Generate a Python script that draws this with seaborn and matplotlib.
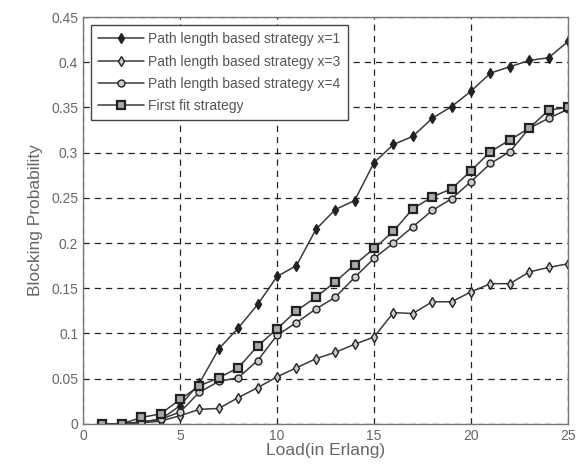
import pandas as pd
import seaborn as sns
import matplotlib
matplotlib.use('Agg')
import matplotlib.pyplot as plt

load = list(range(1, 26))
x1 = [0, 0, 0.002, 0.005, 0.02, 0.045, 0.083, 0.106, 0.132, 0.163, 0.175, 0.215, 0.237,
      0.247, 0.289, 0.309, 0.318, 0.338, 0.351, 0.368, 0.388, 0.395, 0.402, 0.405, 0.423]
x3 = [0, 0, 0.001, 0.003, 0.009, 0.016, 0.017, 0.029, 0.04, 0.052, 0.062, 0.072, 0.079,
      0.088, 0.096, 0.123, 0.122, 0.135, 0.135, 0.146, 0.155, 0.155, 0.168, 0.173, 0.177]
x4 = [0, 0, 0.002, 0.005, 0.013, 0.035, 0.047, 0.051, 0.07, 0.098, 0.112, 0.127, 0.14,
      0.162, 0.183, 0.2, 0.218, 0.236, 0.249, 0.268, 0.288, 0.301, 0.327, 0.338, 0.348]
ff = [0, 0, 0.007, 0.011, 0.027, 0.042, 0.051, 0.062, 0.086, 0.105, 0.125, 0.14, 0.157,
      0.176, 0.194, 0.213, 0.238, 0.251, 0.26, 0.28, 0.301, 0.314, 0.327, 0.347, 0.35]
labels = ['Path length based strategy x=1', 'Path length based strategy x=3',
          'Path length based strategy x=4', 'First fit strategy']

sns.set_style('white')
plt.rcParams['font.family'] = ['Liberation Sans', 'DejaVu Sans']

fig = plt.figure(figsize=(5.85, 4.73), dpi=100)
ax = fig.add_axes([0.142, 0.104, 0.829, 0.86])

# stil per serie: marker, ukuran, warna isi, tebal tepi
styles = [('d', 5.5, '#222222', 1.0),
          ('d', 5.5, '#cccccc', 1.0),
          ('o', 5, '#cccccc', 1.0),
          ('s', 6, '#aaaaaa', 1.6)]
for vals, lab, (mk, ms, fc, mew) in zip([x1, x3, x4, ff], labels, styles):
    df = pd.DataFrame({'Load': load, 'P': vals})
    sns.lineplot(data=df, x='Load', y='P', ax=ax, label=lab, color='#3a3a3a', lw=1.1,
                 marker=mk, markersize=ms, markerfacecolor=fc, markeredgecolor='#222222',
                 markeredgewidth=mew)

ax.set_xlim(0, 25)
ax.set_ylim(0, 0.45)
ax.set_xticks([0, 5, 10, 15, 20, 25])
ax.set_yticks([0, 0.05, 0.1, 0.15, 0.2, 0.25, 0.3, 0.35, 0.4, 0.45])
ax.set_yticklabels(['0', '0.05', '0.1', '0.15', '0.2', '0.25', '0.3', '0.35', '0.4', '0.45'])
ax.grid(True, ls=(0, (5, 4)), color='#222222', lw=0.9)
ax.tick_params(axis='both', colors='#666666', labelsize=10, length=3, direction='in')
for s in ax.spines.values():
    s.set_color('#777777')
    s.set_linewidth(1.0)
ax.set_xlabel('Load(in Erlang)', fontsize=12.5, color='#666666', labelpad=0)
ax.set_ylabel('Blocking Probability', fontsize=12.5, color='#666666', labelpad=6)

leg = ax.legend(loc='upper left', fontsize=10, frameon=True, fancybox=False,
                edgecolor='#444444', framealpha=1, borderaxespad=0.6, handlelength=3.3,
                handletextpad=0.3, labelspacing=0.6, borderpad=0.5)
for t in leg.get_texts():
    t.set_color('#555555')

plt.savefig('out.png', dpi=100)
